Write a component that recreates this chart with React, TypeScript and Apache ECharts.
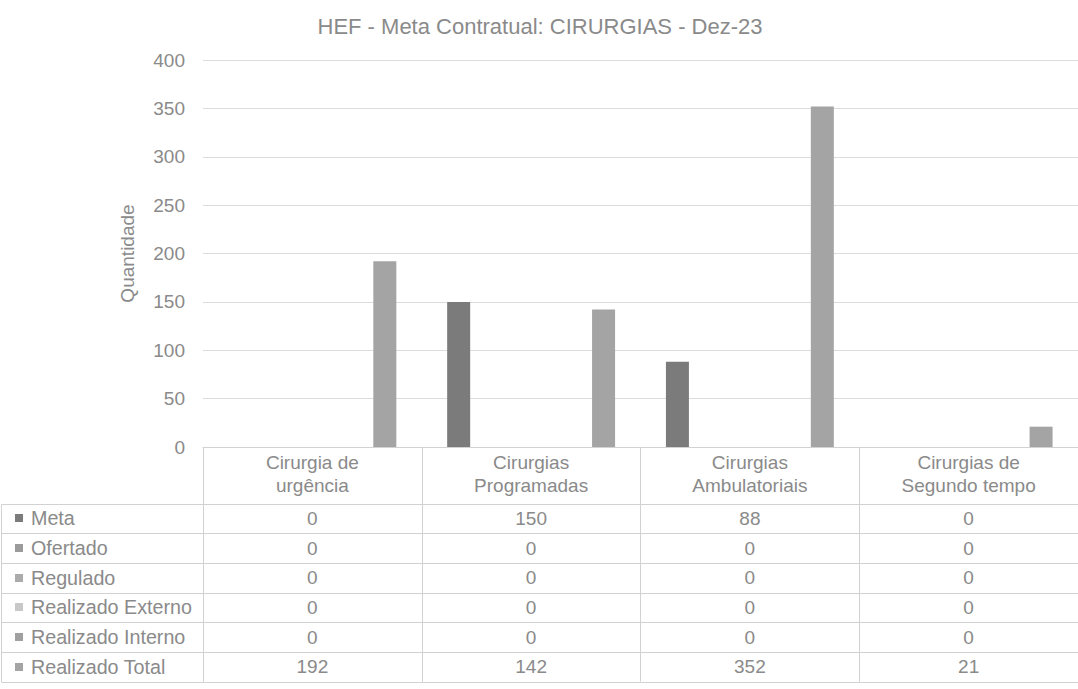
import React, { useEffect, useRef } from "react";
import * as echarts from "echarts";

const titleText = "HEF - Meta Contratual: CIRURGIAS - Dez-23";
const categories = [
  "Cirurgia de\nurgência",
  "Cirurgias\nProgramadas",
  "Cirurgias\nAmbulatoriais",
  "Cirurgias de\nSegundo tempo",
];
const seriesNames = [
  "Meta",
  "Ofertado",
  "Regulado",
  "Realizado Externo",
  "Realizado Interno",
  "Realizado Total",
];
const meta = [0, 150, 88, 0];
const ofertado = [0, 0, 0, 0];
const regulado = [0, 0, 0, 0];
const realizadoExterno = [0, 0, 0, 0];
const realizadoInterno = [0, 0, 0, 0];
const realizadoTotal = [192, 142, 352, 21];
const yMin = 0;
const yMax = 400;
const yInterval = 50;
const yAxisName = "Quantidade";

const seriesData = [meta, ofertado, regulado, realizadoExterno, realizadoInterno, realizadoTotal];
const seriesColors = ["#7b7b7b", "#9b9b9b", "#ababab", "#c8c8c8", "#a0a0a0", "#a4a4a4"];

const FONT = "'Liberation Sans', Arial, sans-serif";
const TEXT = "#8a8a8a";
const LINE = "#d2d2d2";

const GRID_LEFT = 203;
const GRID_TOP = 60;
const GRID_W = 879;
const GRID_H = 387;
const HEADER_BOTTOM = 503.5;
const ROW_H = 29.7;

export default function App() {
  const ref = useRef<HTMLDivElement>(null);
  useEffect(() => {
    if (!ref.current) return;
    const chart = echarts.init(ref.current, null, { renderer: "svg" });
    const tableBottom = HEADER_BOTTOM + ROW_H * seriesNames.length;
    chart.setOption({
      animation: false,
      backgroundColor: "#ffffff",
      textStyle: { fontFamily: FONT },
      title: {
        text: titleText,
        left: 535,
        top: 10,
        textAlign: "center",
        textStyle: { fontSize: 22, fontWeight: "normal", color: TEXT, fontFamily: FONT },
      },
      grid: { left: GRID_LEFT, top: GRID_TOP, width: GRID_W, height: GRID_H, containLabel: false },
      xAxis: {
        type: "category",
        data: categories,
        axisLine: { show: true, lineStyle: { color: LINE, width: 1 } },
        axisTick: {
          show: true,
          interval: 0,
          alignWithLabel: false,
          length: tableBottom - (GRID_TOP + GRID_H),
          lineStyle: { color: LINE, width: 1 },
        },
        axisLabel: {
          interval: 0,
          margin: 4,
          fontSize: 19,
          lineHeight: 23,
          color: TEXT,
          fontFamily: FONT,
          align: "center",
        },
      },
      yAxis: {
        type: "value",
        min: yMin,
        max: yMax,
        interval: yInterval,
        name: yAxisName,
        nameLocation: "middle",
        nameRotate: 90,
        nameGap: 66,
        nameTextStyle: { fontSize: 19, color: TEXT, fontFamily: FONT },
        axisLine: { show: false },
        axisTick: { show: false },
        axisLabel: { margin: 18, fontSize: 19, color: TEXT, fontFamily: FONT },
        splitLine: { show: true, lineStyle: { color: "#dcdcdc", width: 1 } },
      },
      series: seriesNames.map((name, i) => ({
        name,
        type: "bar",
        data: seriesData[i],
        barWidth: 23,
        barGap: "26%",
        itemStyle: { color: seriesColors[i] },
      })),
    });

    const xs = categories.map((_, i) => chart.convertToPixel({ xAxisIndex: 0 }, i) as number);
    const graphics: any[] = [];
    for (let k = 0; k <= seriesNames.length; k++) {
      const y = Math.round(HEADER_BOTTOM + k * ROW_H) + 0.5;
      graphics.push({
        type: "line",
        shape: { x1: 1.5, y1: y, x2: 1078, y2: y },
        style: { stroke: LINE, lineWidth: 1 },
        silent: true,
      });
    }
    graphics.push({
      type: "line",
      shape: { x1: 1.5, y1: Math.round(HEADER_BOTTOM) + 0.5, x2: 1.5, y2: Math.round(tableBottom) + 0.5 },
      style: { stroke: LINE, lineWidth: 1 },
      silent: true,
    });
    seriesNames.forEach((name, r) => {
      const cy = HEADER_BOTTOM + (r + 0.5) * ROW_H;
      graphics.push({
        type: "rect",
        shape: { x: 15, y: Math.round(cy - 4), width: 8, height: 8 },
        style: { fill: seriesColors[r] },
        silent: true,
      });
      graphics.push({
        type: "text",
        x: 31,
        y: cy,
        style: {
          text: name,
          fontSize: 19.7,
          fontFamily: FONT,
          fill: TEXT,
          verticalAlign: "middle",
          align: "left",
        },
        silent: true,
      });
      seriesData[r].forEach((v, c) => {
        graphics.push({
          type: "text",
          x: xs[c],
          y: cy,
          style: {
            text: String(v),
            fontSize: 19,
            fontFamily: FONT,
            fill: TEXT,
            verticalAlign: "middle",
            align: "center",
          },
          silent: true,
        });
      });
    });
    chart.setOption({ graphic: graphics });

    return () => chart.dispose();
  }, []);
  return (
    <div
      ref={ref}
      style={{ position: "fixed", left: 0, top: 0, width: 1078, height: 689, background: "#fff" }}
    />
  );
}
